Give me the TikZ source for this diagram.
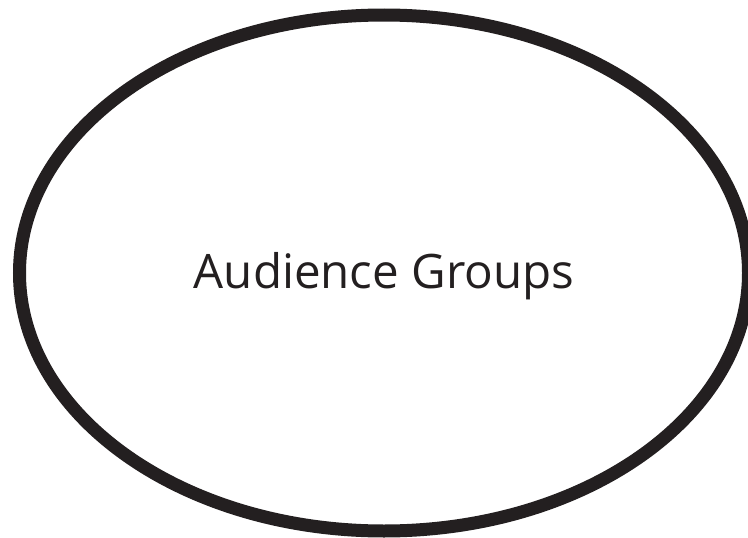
\documentclass[tikz,border=0pt]{standalone}
\usepackage{fontspec}
\setmainfont{Open Sans}
\definecolor{ink}{HTML}{231F20}
\begin{document}
\begin{tikzpicture}[x=1pt,y=-1pt]
\useasboundingbox (0,0) rectangle (748,538);
\tikzset{ovalline/.style={draw=ink,line width=13pt},txt/.style={text=ink,font=\fontsize{47.5}{50}\selectfont}}
\draw[ovalline] (384,273) ellipse [x radius=364.5, y radius=258];
\node[txt,anchor=base] (t) at (384,288) {Audience Groups};
\end{tikzpicture}
\end{document}
